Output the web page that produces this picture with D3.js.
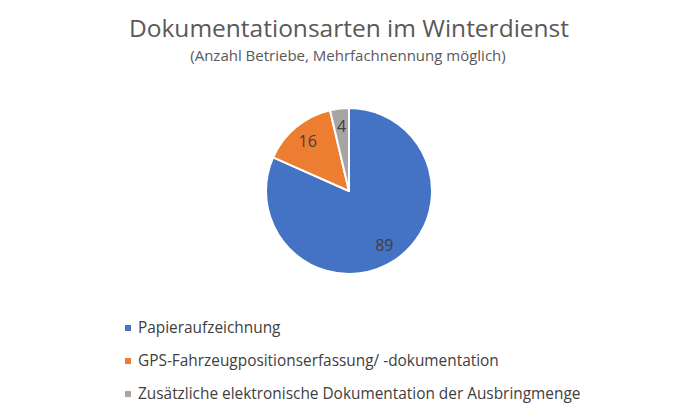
<!DOCTYPE html>
<html>
<head>
<meta charset="utf-8">
<script src="https://cdn.jsdelivr.net/npm/d3@7"></script>
<style>
  body { margin: 0; background: #fff; }
  svg { font-family: "Open Sans", sans-serif; }
</style>
</head>
<body>
<svg id="chart" width="700" height="420"></svg>
<script>
// data
const categories = [
  "Papieraufzeichnung",
  "GPS-Fahrzeugpositionserfassung/ -dokumentation",
  "Zusätzliche elektronische Dokumentation der Ausbringmenge"
];
const values = [89, 16, 4];
const colors = ["#4472C4", "#ED7D31", "#A5A5A5"];

const w = 700, h = 420;
const svg = d3.select("#chart");

svg.append("rect").attr("width", w).attr("height", h).attr("fill", "#fff");

// title + subtitle
svg.append("text")
  .attr("x", 349).attr("y", 37)
  .attr("text-anchor", "middle")
  .attr("font-size", 24.5)
  .attr("fill", "#595959")
  .text("Dokumentationsarten im Winterdienst");

svg.append("text")
  .attr("x", 348).attr("y", 61)
  .attr("text-anchor", "middle")
  .attr("font-size", 15)
  .attr("fill", "#595959")
  .text("(Anzahl Betriebe, Mehrfachnennung möglich)");

// pie
const cx = 349, cy = 191, r = 83;
const data = categories.map((c, i) => ({ name: c, value: values[i], color: colors[i] }));

const pie = d3.pie().value(d => d.value).sort(null);
const arc = d3.arc().innerRadius(0).outerRadius(r);
const labelArc = d3.arc().innerRadius(r * 0.78).outerRadius(r * 0.78);

const g = svg.append("g").attr("transform", "translate(" + cx + "," + cy + ")");

g.selectAll("path")
  .data(pie(data))
  .enter()
  .append("path")
  .attr("d", arc)
  .attr("fill", d => d.data.color)
  .attr("stroke", "#fff")
  .attr("stroke-width", 2)
  .attr("stroke-linejoin", "round");

g.selectAll("text")
  .data(pie(data))
  .enter()
  .append("text")
  .attr("transform", d => "translate(" + labelArc.centroid(d) + ")")
  .attr("text-anchor", "middle")
  .attr("dy", "0.35em")
  .attr("font-size", 16)
  .attr("fill", "#404040")
  .text(d => d.data.value);

// legend
const legendY = d3.scalePoint().domain(categories).range([328, 394]);

const legend = svg.append("g");
const row = legend.selectAll("g")
  .data(data)
  .enter()
  .append("g")
  .attr("transform", d => "translate(125," + legendY(d.name) + ")");

row.append("rect")
  .attr("x", 0).attr("y", -3)
  .attr("width", 6).attr("height", 6)
  .attr("fill", d => d.color);

row.append("text")
  .attr("x", 13)
  .attr("dy", "0.35em")
  .attr("font-size", 15.4)
  .attr("fill", "#404040")
  .text(d => d.name);
</script>
</body>
</html>
